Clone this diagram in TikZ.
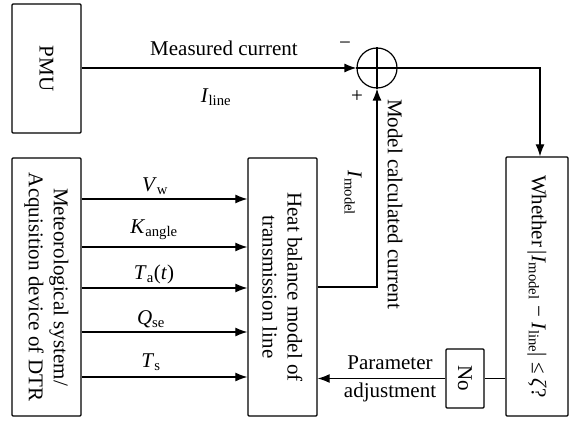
\documentclass[tikz,border=0pt]{standalone}
\usepackage{fontspec}
\setmainfont{Liberation Serif}
\usetikzlibrary{arrows.meta,calc}
\newcommand{\lsub}[1]{\textsubscript{#1}}
\begin{document}
\begin{tikzpicture}[x=1pt,y=-1pt,
  font=\fontsize{21}{25}\selectfont,
  box/.style={draw,line width=1.3pt,rounded corners=1pt,inner sep=0pt},
  conn/.style={line width=1.2pt},
  arr/.style={conn,-{Latex[length=12pt,width=9pt]}},
  vtext/.style={rotate=-90,align=center}]
\useasboundingbox (0,0) rectangle (573,422);
\fill[white] (0,0) rectangle (573,422);
% boxes
\node[box,minimum width=69pt,minimum height=129pt,
  label={[vtext]center:PMU}] (pmu) at (46.5,68.5) {};
\node[box,minimum width=69pt,minimum height=258pt,
  label={[vtext]center:Meteorological system/\\Acquisition device of DTR}] (met) at (46.5,287) {};
\node[box,minimum width=69pt,minimum height=258pt,
  label={[vtext]center:Heat balance model of\\transmission line}] (heat) at (282.5,287) {};
\node[box,minimum width=62pt,minimum height=259pt,
  label={[vtext]center:Whether\,|\textit{I}\lsub{model} − \textit{I}\lsub{line}| ≤ \textit{ζ}?}] (wh) at (537,286.5) {};
\node[box,minimum width=38pt,minimum height=59pt,
  label={[vtext]center:No}] (no) at (465,378.5) {};
\node[draw,circle,line width=1.2pt,minimum size=40pt,inner sep=0pt] (sum) at (377,68) {};
\draw[conn] (sum.north) -- (sum.south) (sum.west) -- (sum.east);
% connectors
\draw[arr] (pmu.east |- sum.west) -- (sum.west);
\draw[arr] (sum.east) -| (wh.north -| 540,0);
\draw[arr] (heat.east) -| (sum.south);
\foreach \yy in {199,247,288,332,377}
  \draw[arr] (met.east |- 0,\yy) -- (heat.west |- 0,\yy);
\draw[conn] (wh.west |- no.east) -- (no.east);
\draw[arr] (no.west) -- (heat.east |- no.west);
% labels
\node (lmc) at (224,48) {Measured current};
\node (lil) at (216,97) {\textit{I}\lsub{line}};
\node (lmin) at (345,46) {−};
\node (lplus) at (357,97) {+};
\node[vtext] (lmcc) at (395,204) {Model calculated current};
\node[vtext] (lim) at (353,193) {\textit{I}\lsub{model}};
\node (lpa) at (390,363) {Parameter};
\node (lad) at (390,392) {adjustment};
\node (lvw) at (155,186) {\textit{V}\lsub{w}};
\node (lka) at (154,230) {\textit{K}\lsub{angle}};
\node (lta) at (154,274) {\textit{T}\lsub{a}(\textit{t})};
\node (lqs) at (151,319) {\textit{Q}\lsub{se}};
\node (lts) at (151,362) {\textit{T}\lsub{s}};
\end{tikzpicture}
\end{document}
